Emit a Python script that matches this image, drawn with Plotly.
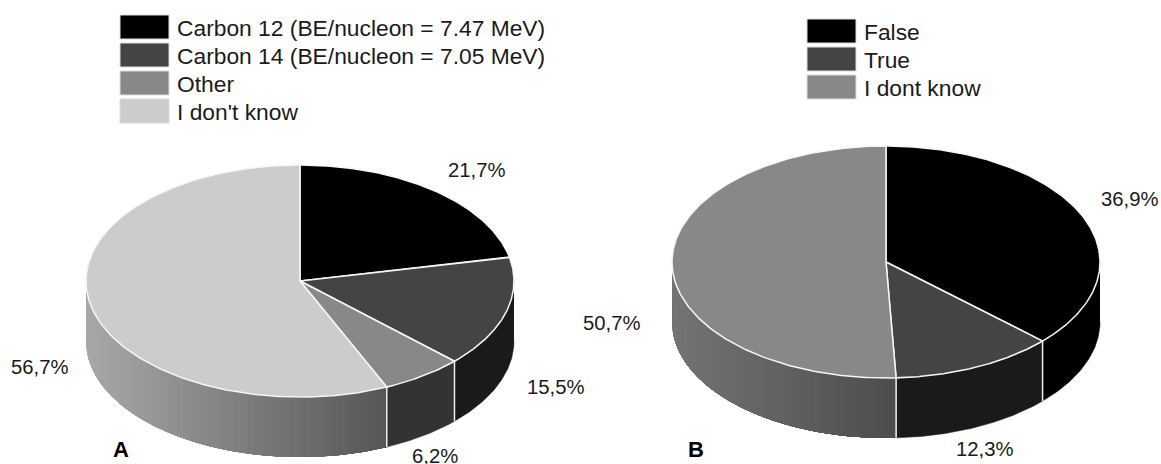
import numpy as np
import plotly.graph_objects as go

# ---- data ----
labels_a = ["Carbon 12 (BE/nucleon = 7.47 MeV)", "Carbon 14 (BE/nucleon = 7.05 MeV)", "Other", "I don't know"]
values_a = [21.7, 15.5, 6.2, 56.7]
text_a = ["21,7%", "15,5%", "6,2%", "56,7%"]
labels_b = ["False", "True", "I dont know"]
values_b = [36.9, 12.3, 50.7]
text_b = ["36,9%", "12,3%", "50,7%"]

top_colors = ["#000000", "#444444", "#888888", "#cccccc"]
top_colors_b = ["#000000", "#444444", "#888888"]
wall_a = [(0, 0), (26, 26), (51, 51), (168, 85)]
wall_b = [(0, 0), (26, 26), (116, 76)]

W, H = 1161, 464
RX, RY, DEPTH = 214, 116, 60
FONT = "Liberation Sans"

fig = go.Figure()


def poly(x, y, color, line=None, lw=1.0):
    fig.add_trace(go.Scatter(
        x=x, y=y, mode="lines", fill="toself", fillcolor=color,
        line=dict(color=line or color, width=lw), hoverinfo="skip", showlegend=False))


def pie3d(values, tops, walls, cx, cy):
    fr = np.cumsum([0] + list(values), dtype=float)
    fr = fr / fr[-1] * 2 * np.pi
    px = lambda t: cx + RX * np.sin(t)
    py = lambda t: cy - RY * np.cos(t)
    # side walls (front half only)
    for i, (c0, c1) in enumerate(walls):
        a, b = max(fr[i], np.pi / 2), min(fr[i + 1], 3 * np.pi / 2)
        if b <= a:
            continue
        if c0 == c1:
            t = np.linspace(a, b, 80)
            col = f"rgb({c0},{c0},{c0})"
            poly(np.r_[px(t), px(t[::-1])], np.r_[py(t), py(t[::-1]) + DEPTH], col, lw=0.5)
        else:
            xl, xr = px(b), px(a)
            # painted from the far left towards the right, each band covering
            # everything to its right, so no seams appear between the bands
            ts = np.linspace(b, a, 61)
            for t0 in ts[:-1]:
                g = int(round(c0 + (c1 - c0) * (px(t0) - xl) / (xr - xl)))
                col = f"rgb({g},{g},{g})"
                t = np.linspace(t0, a, 80)
                poly(np.r_[px(t), px(t[::-1])], np.r_[py(t), py(t[::-1]) + DEPTH], col, lw=0)
    # white edges between walls
    for ang in fr[1:-1]:
        if np.pi / 2 < ang < 3 * np.pi / 2:
            fig.add_trace(go.Scatter(
                x=[px(ang), px(ang)], y=[py(ang), py(ang) + DEPTH], mode="lines",
                line=dict(color="#eeeeee", width=1.5), hoverinfo="skip", showlegend=False))
    # top face
    for i, col in enumerate(tops):
        t = np.linspace(fr[i], fr[i + 1], 200)
        poly(np.r_[cx, px(t), cx], np.r_[cy, py(t), cy], col, line="#f6f6f6", lw=1.5)


pie3d(values_a, top_colors, wall_a, 300, 281)
pie3d(values_b, top_colors_b, wall_b, 886, 262)

ann = []
shapes = []


def text(x, y, s, size=20, anchor="center", bold=False):
    ann.append(dict(x=x, y=y, text=f"<b>{s}</b>" if bold else s, showarrow=False, xanchor=anchor,
                    yanchor="middle", font=dict(family=FONT, size=size, color="#1a1a1a" if not bold else "#000"),
                    xref="x", yref="y"))


def legend(names, x0, y0):
    for i, n in enumerate(names):
        y = y0 + 28 * i
        shapes.append(dict(type="rect", x0=x0, x1=x0 + 49, y0=y, y1=y + 24, xref="x", yref="y",
                           fillcolor=top_colors[i], line=dict(color="#dddddd", width=1)))
        text(x0 + 55, y + 13, n, size=22.8, anchor="left")


legend(labels_a, 120, 15)
legend(labels_b, 807, 19)

for s, (x, y) in zip(text_a, [(477, 170), (556, 387), (435, 456), (40, 367)]):
    text(x, y, s, size=20.3)
for s, (x, y) in zip(text_b, [(1130, 199), (985, 449), (612, 323)]):
    text(x, y, s, size=20.3)
text(121, 449, "A", size=22, bold=True)
text(696, 449, "B", size=22, bold=True)

fig.update_layout(
    width=W, height=H, margin=dict(l=0, r=0, t=0, b=0), autosize=False,
    paper_bgcolor="white", plot_bgcolor="white", showlegend=False,
    xaxis=dict(range=[0, W], visible=False, fixedrange=True),
    yaxis=dict(range=[H, 0], visible=False, fixedrange=True),
    annotations=ann, shapes=shapes,
)
fig.write_html("out.html", config=dict(displayModeBar=False),
               post_script="document.body.style.margin='0';document.documentElement.style.overflow='hidden';")
